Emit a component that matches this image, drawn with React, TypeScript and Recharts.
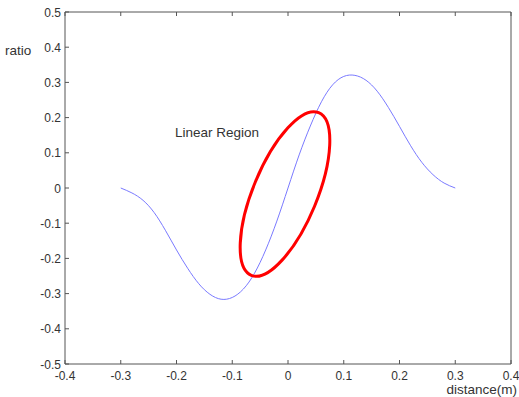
import React from 'react';
import { LineChart, Line, XAxis, YAxis, ReferenceDot } from 'recharts';

const distance = [
  -0.3, -0.28, -0.26, -0.24, -0.22, -0.2, -0.18, -0.16, -0.14, -0.12, -0.1,
  -0.08, -0.06, -0.04, -0.02, 0, 0.02, 0.04, 0.06, 0.08, 0.1, 0.12, 0.14,
  0.16, 0.18, 0.2, 0.22, 0.24, 0.26, 0.28, 0.3,
];
const ratio = [
  0, -0.014, -0.035, -0.07, -0.12, -0.176, -0.228, -0.272, -0.302, -0.316,
  -0.311, -0.287, -0.242, -0.176, -0.094, 0, 0.094, 0.176, 0.245, 0.293, 0.317,
  0.32, 0.306, 0.275, 0.229, 0.175, 0.12, 0.073, 0.038, 0.014, 0,
];
const xTicks = [-0.4, -0.3, -0.2, -0.1, 0, 0.1, 0.2, 0.3, 0.4];
const yTicks = [-0.5, -0.4, -0.3, -0.2, -0.1, 0, 0.1, 0.2, 0.3, 0.4, 0.5];

const regionLabel = 'Linear Region';
const regionLabelPos = { x: -0.2027, y: 0.159 };
const ellipseCenter = { x: -0.0054, y: -0.017 };

const data = distance.map((d, i) => ({ distance: d, ratio: ratio[i] }));

const FONT = '"Liberation Sans", Arial, sans-serif';
const AXIS = '#555';
const TEXT = '#333';
const TL = 4;

const BottomTick = (props: any) => {
  const { x, y, payload } = props;
  return (
    <g>
      <line x1={x} y1={y} x2={x} y2={y - TL} stroke={AXIS} />
      <text x={x} y={y + 16} textAnchor="middle" fontSize={12} fill={TEXT} fontFamily={FONT}>
        {String(payload.value)}
      </text>
    </g>
  );
};
const TopTick = (props: any) => {
  const { x, y } = props;
  return <line x1={x} y1={y} x2={x} y2={y + TL} stroke={AXIS} />;
};
const LeftTick = (props: any) => {
  const { x, y, payload } = props;
  return (
    <g>
      <line x1={x} y1={y} x2={x + TL} y2={y} stroke={AXIS} />
      <text x={x - 4} y={y + 4.5} textAnchor="end" fontSize={12} fill={TEXT} fontFamily={FONT}>
        {String(payload.value)}
      </text>
    </g>
  );
};
const RightTick = (props: any) => {
  const { x, y } = props;
  return <line x1={x} y1={y} x2={x - TL} y2={y} stroke={AXIS} />;
};

export default function App() {
  return (
    <div style={{ position: 'absolute', left: 0, top: 0, background: '#fff' }}>
      <LineChart
        width={519}
        height={397}
        data={data}
        margin={{ top: 11, right: 7, bottom: 13, left: 5 }}
      >
        <XAxis
          xAxisId="b"
          dataKey="distance"
          type="number"
          domain={[-0.4, 0.4]}
          ticks={xTicks}
          interval={0}
          tickSize={0}
          tickMargin={0}
          tickLine={false}
          tick={<BottomTick />}
          stroke={AXIS}
          height={20}
          label={{
            content: () => (
              <text x={517} y={394} textAnchor="end" fontSize={13.5} fill={TEXT} fontFamily={FONT}>
                distance(m)
              </text>
            ),
          }}
        />
        <XAxis
          xAxisId="t"
          orientation="top"
          dataKey="distance"
          type="number"
          domain={[-0.4, 0.4]}
          ticks={xTicks}
          interval={0}
          tickSize={0}
          tickMargin={0}
          tickLine={false}
          tick={<TopTick />}
          stroke={AXIS}
          height={1}
        />
        <YAxis
          yAxisId="l"
          type="number"
          domain={[-0.5, 0.5]}
          ticks={yTicks}
          interval={0}
          tickSize={0}
          tickMargin={0}
          tickLine={false}
          tick={<LeftTick />}
          stroke={AXIS}
          width={60}
          label={{
            content: () => (
              <text x={5} y={55} textAnchor="start" fontSize={13.5} fill={TEXT} fontFamily={FONT}>
                ratio
              </text>
            ),
          }}
        />
        <YAxis
          yAxisId="r"
          orientation="right"
          type="number"
          domain={[-0.5, 0.5]}
          ticks={yTicks}
          interval={0}
          tickSize={0}
          tickMargin={0}
          tickLine={false}
          tick={<RightTick />}
          stroke={AXIS}
          width={1}
        />
        <Line
          xAxisId="b"
          yAxisId="l"
          type="natural"
          dataKey="ratio"
          stroke="#7a7aff"
          strokeWidth={1}
          dot={false}
          isAnimationActive={false}
        />
        <ReferenceDot
          xAxisId="b"
          yAxisId="l"
          x={ellipseCenter.x}
          y={ellipseCenter.y}
          shape={(p: any) => (
            <ellipse
              cx={p.cx}
              cy={p.cy}
              rx={88}
              ry={32}
              fill="none"
              stroke="#ff0000"
              strokeWidth={3}
              transform={`rotate(-67.5 ${p.cx} ${p.cy})`}
            />
          )}
        />
        <ReferenceDot
          xAxisId="b"
          yAxisId="l"
          x={regionLabelPos.x}
          y={regionLabelPos.y}
          shape={(p: any) => (
            <text x={p.cx} y={p.cy + 5} fontSize={13.5} fill={TEXT} fontFamily={FONT}>
              {regionLabel}
            </text>
          )}
        />
      </LineChart>
    </div>
  );
}
